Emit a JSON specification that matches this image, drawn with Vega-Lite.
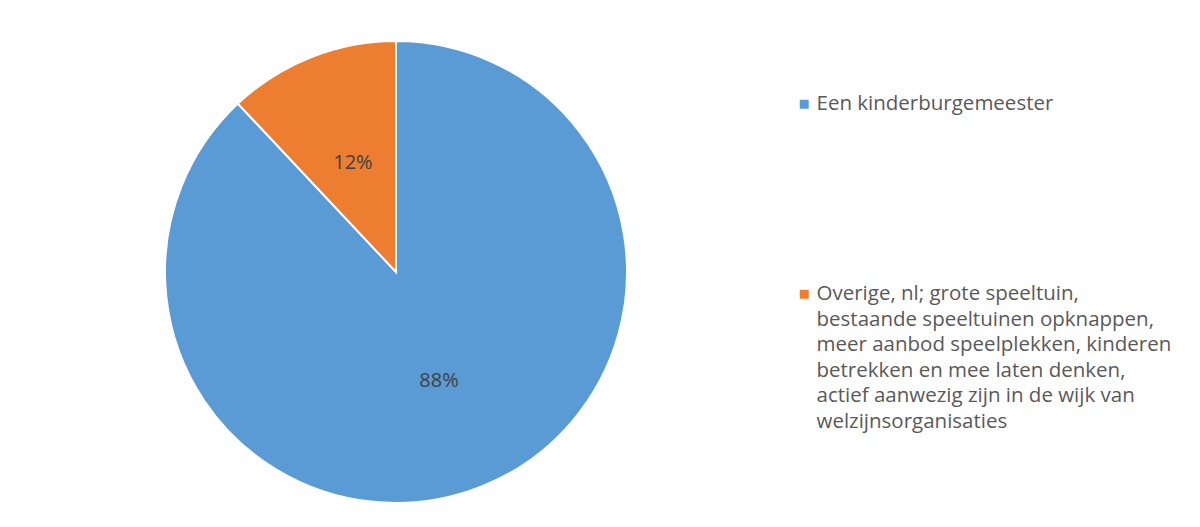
{
  "$schema": "https://vega.github.io/schema/vega-lite/v6.json",
  "width": 778,
  "height": 524,
  "padding": {"left": 7, "top": 10, "right": 0, "bottom": 0},
  "background": "white",
  "config": {
    "view": {"stroke": null},
    "style": {"guide-label": {"lineHeight": 25.5}}
  },
  "data": {
    "values": [
      {"categorie": "Een kinderburgemeester", "aandeel": 88, "label": "88%"},
      {"categorie": "Overige, nl; grote speeltuin,\nbestaande speeltuinen opknappen,\nmeer aanbod speelplekken, kinderen\nbetrekken en mee laten denken,\nactief aanwezig zijn in de wijk van\nwelzijnsorganisaties", "aandeel": 12, "label": "12%"}
    ]
  },
  "encoding": {
    "theta": {"field": "aandeel", "type": "quantitative", "stack": true},
    "order": {"field": "aandeel", "type": "quantitative", "sort": "descending"}
  },
  "layer": [
    {
      "mark": {"type": "arc", "outerRadius": 231, "stroke": "white", "strokeWidth": 2},
      "encoding": {
        "color": {
          "field": "categorie",
          "type": "nominal",
          "scale": {"range": ["#5B9BD5", "#ED7D31"]},
          "legend": {
            "orient": "none",
            "legendX": 787,
            "legendY": 84,
            "title": null,
            "padding": 0,
            "labelExpr": "split(datum.label, '\\n')",
            "labelFont": "Open Sans",
            "labelFontSize": 20.5,
            "labelColor": "#595959",
            "labelLimit": 600,
            "labelOffset": 2,
            "symbolType": "square",
            "symbolSize": 81,
            "symbolStrokeWidth": 0,
            "rowPadding": 169
          }
        }
      }
    },
    {
      "mark": {"type": "text", "radius": 117, "font": "Open Sans", "fontSize": 20, "fill": "#404040"},
      "encoding": {
        "detail": {"field": "categorie", "type": "nominal"},
        "text": {"field": "label", "type": "nominal"}
      }
    }
  ]
}
